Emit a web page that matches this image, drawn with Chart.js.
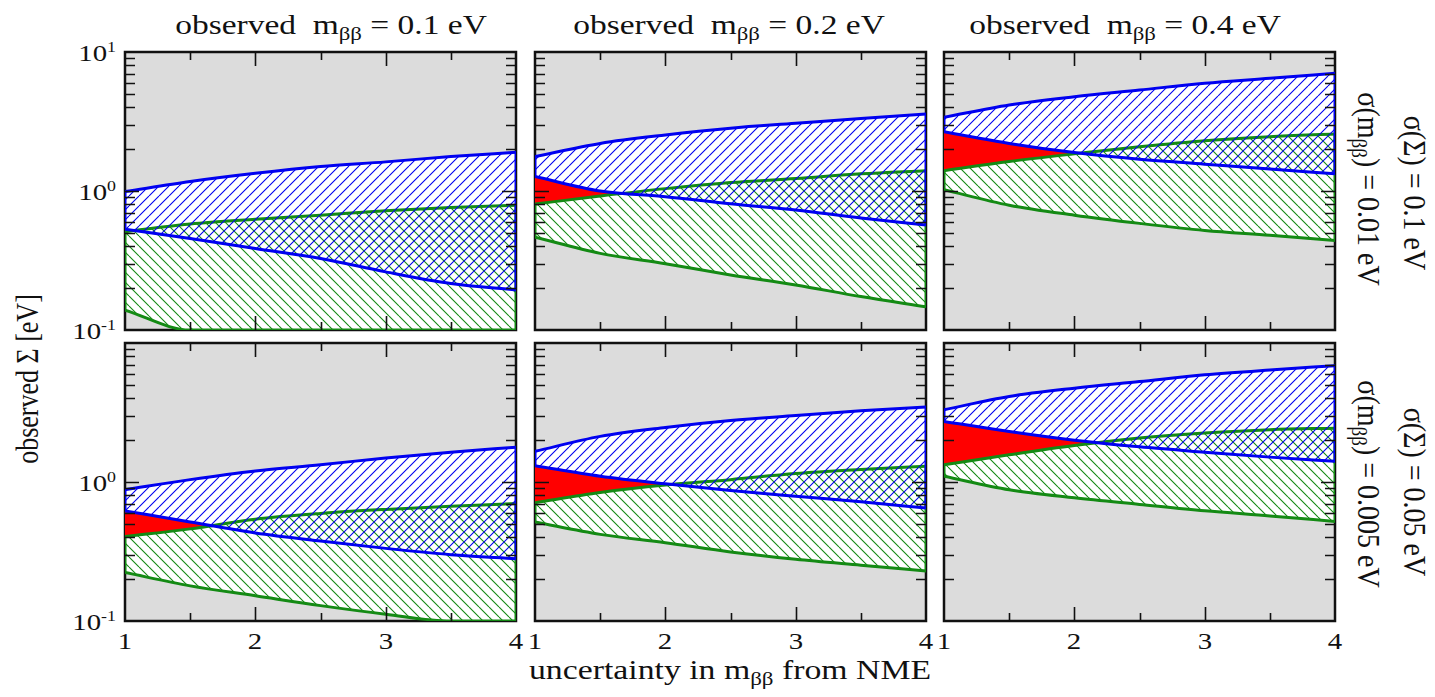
<!DOCTYPE html>
<html>
<head>
<meta charset="utf-8">
<script src="https://cdn.jsdelivr.net/npm/chart.js@4.4.1/dist/chart.umd.min.js"></script>
<style>
  body { margin: 0; background: #fff; }
  #page { position: relative; width: 1435px; height: 697px; overflow: hidden; background: #fff; }
  .panel { position: absolute; }
  .txt { position: absolute; white-space: nowrap; line-height: 1; color: #111;
         font-family: "Liberation Serif", "DejaVu Serif", serif; }
  .sub { font-size: 0.68em; vertical-align: -0.32em; }
  .sup { font-size: 0.62em; position: relative; top: -0.6em; }
</style>
</head>
<body>
<div id="page"></div>
<script>
// x grid shared by every curve (uncertainty factor from NME)
const xValues = [1, 1.5, 2, 2.5, 3, 3.5, 4];
const xTickValues = [1, 2, 3, 4];
const xMinorTicks = [1.5, 2.5, 3.5];
const yTickValues = [0.1, 1, 10];
const yTickExponents = ['-1', '0', '1'];
const yMinorTicks = [0.2, 0.3, 0.4, 0.5, 0.6, 0.7, 0.8, 0.9, 2, 3, 4, 5, 6, 7, 8, 9];

const observedMbb = ['0.1', '0.2', '0.4'];
const sigmaSum = ['0.1', '0.05'];
const sigmaMbb = ['0.01', '0.005'];

// top row: σ(Σ) = 0.1 eV, σ(mββ) = 0.01 eV
const blueUpperA1 = [0.99, 1.17, 1.34, 1.50, 1.62, 1.77, 1.90];
const blueLowerA1 = [0.53, 0.456, 0.386, 0.327, 0.262, 0.216, 0.194];
const greenUpperA1 = [0.51, 0.58, 0.627, 0.67, 0.72, 0.76, 0.79];
const greenLowerA1 = [0.139, 0.1, 0.1, 0.1, 0.1, 0.1, 0.1];

const blueUpperA2 = [1.77, 2.20, 2.53, 2.83, 3.07, 3.33, 3.58];
const blueLowerA2 = [1.27, 1.00, 0.91, 0.81, 0.73, 0.64, 0.57];
const greenUpperA2 = [0.805, 0.92, 1.04, 1.15, 1.23, 1.33, 1.40];
const greenLowerA2 = [0.465, 0.356, 0.30, 0.249, 0.211, 0.174, 0.147];

const blueUpperA3 = [3.39, 4.16, 4.77, 5.33, 5.96, 6.47, 7.03];
const blueLowerA3 = [2.67, 2.20, 1.89, 1.69, 1.56, 1.44, 1.33];
const greenUpperA3 = [1.40, 1.63, 1.85, 2.08, 2.30, 2.46, 2.57];
const greenLowerA3 = [1.02, 0.79, 0.67, 0.585, 0.52, 0.48, 0.44];

// bottom row: σ(Σ) = 0.05 eV, σ(mββ) = 0.005 eV
const blueUpperB1 = [0.88, 1.04, 1.20, 1.33, 1.49, 1.64, 1.78];
const blueLowerB1 = [0.62, 0.515, 0.43, 0.376, 0.333, 0.30, 0.281];
const greenUpperB1 = [0.405, 0.46, 0.54, 0.594, 0.635, 0.67, 0.70];
const greenLowerB1 = [0.223, 0.179, 0.152, 0.129, 0.112, 0.1, 0.1];

const blueUpperB2 = [1.66, 2.13, 2.47, 2.77, 3.01, 3.26, 3.46];
const blueLowerB2 = [1.31, 1.10, 0.97, 0.87, 0.79, 0.72, 0.65];
const greenUpperB2 = [0.71, 0.84, 0.95, 1.04, 1.15, 1.23, 1.30];
const greenLowerB2 = [0.515, 0.42, 0.366, 0.314, 0.278, 0.252, 0.229];

const blueUpperB3 = [3.31, 4.12, 4.73, 5.28, 5.90, 6.40, 6.87];
const blueLowerB3 = [2.73, 2.31, 2.00, 1.79, 1.64, 1.51, 1.41];
const greenUpperB3 = [1.33, 1.57, 1.83, 2.07, 2.25, 2.38, 2.44];
const greenLowerB3 = [1.10, 0.88, 0.77, 0.69, 0.62, 0.57, 0.52];

const panels = [
  [blueUpperA1, blueLowerA1, greenUpperA1, greenLowerA1],
  [blueUpperA2, blueLowerA2, greenUpperA2, greenLowerA2],
  [blueUpperA3, blueLowerA3, greenUpperA3, greenLowerA3],
  [blueUpperB1, blueLowerB1, greenUpperB1, greenLowerB1],
  [blueUpperB2, blueLowerB2, greenUpperB2, greenLowerB2],
  [blueUpperB3, blueLowerB3, greenUpperB3, greenLowerB3]
];

const colLeft = [125, 535, 944];
const rowTop = [52, 343];
const panelW = 391;
const panelH = 278;
const pad = 6;
const blue = '#0000f0';
const green = '#148a14';
const page = document.getElementById('page');

function hatch(color, forward) {
  const size = 10;
  const c = document.createElement('canvas');
  c.width = size;
  c.height = size;
  const g = c.getContext('2d');
  g.strokeStyle = color;
  g.lineWidth = 1.1;
  g.beginPath();
  for (const o of [-size, 0, size]) {
    if (forward) { g.moveTo(o, size); g.lineTo(o + size, 0); }
    else { g.moveTo(o, 0); g.lineTo(o + size, size); }
  }
  g.stroke();
  return g.createPattern(c, 'repeat');
}

const blueHatch = hatch(blue, true);
const greenHatch = hatch(green, false);

function pts(arr) {
  return xValues.map((x, i) => ({ x, y: arr[i] }));
}

function edge(hi, lo, i) {
  return [{ x: xValues[i], y: hi[i] }, { x: xValues[i], y: lo[i] }];
}

const panelBackground = {
  id: 'panelBackground',
  beforeDraw(chart) {
    const { ctx, chartArea: a } = chart;
    ctx.save();
    ctx.fillStyle = '#dcdcdc';
    ctx.fillRect(a.left, a.top, a.right - a.left, a.bottom - a.top);
    ctx.restore();
  }
};

const panelFrame = {
  id: 'panelFrame',
  beforeDatasetsDraw(chart) {
    const { ctx, chartArea: a } = chart;
    ctx.save();
    ctx.strokeStyle = '#111';
    ctx.lineWidth = 2.5;
    ctx.strokeRect(a.left, a.top, a.right - a.left, a.bottom - a.top);
    ctx.restore();
  }
};

const panelTicks = {
  id: 'panelTicks',
  afterDatasetsDraw(chart) {
    const { ctx, chartArea: a, scales } = chart;
    ctx.save();
    ctx.strokeStyle = '#111';
    ctx.lineWidth = 1.6;
    ctx.beginPath();
    const xt = [...xTickValues.slice(1, -1).map((v) => [v, 14]), ...xMinorTicks.map((v) => [v, 8])];
    for (const [v, len] of xt) {
      const px = Math.round(scales.x.getPixelForValue(v)) + 0.5;
      ctx.moveTo(px, a.bottom); ctx.lineTo(px, a.bottom - len);
      ctx.moveTo(px, a.top); ctx.lineTo(px, a.top + len);
    }
    const yt = [...yTickValues.slice(1, -1).map((v) => [v, 14]), ...yMinorTicks.map((v) => [v, 10])];
    for (const [v, len] of yt) {
      const py = Math.round(scales.y.getPixelForValue(v)) + 0.5;
      ctx.moveTo(a.left, py); ctx.lineTo(a.left + len, py);
      ctx.moveTo(a.right, py); ctx.lineTo(a.right - len, py);
    }
    ctx.stroke();
    ctx.restore();
  }
};

function lineSet(data, color, width, extra) {
  return Object.assign({
    data, borderColor: color, borderWidth: width, pointRadius: 0, fill: false,
    cubicInterpolationMode: 'monotone'
  }, extra || {});
}

function addText(html, left, top, size, transform, origin) {
  const el = document.createElement('div');
  el.className = 'txt';
  el.innerHTML = html;
  el.style.left = left + 'px';
  el.style.top = top + 'px';
  el.style.fontSize = size + 'px';
  el.style.transform = transform;
  el.style.transformOrigin = origin || 'center center';
  page.appendChild(el);
  return el;
}

panels.forEach(([bHi, bLo, gHi, gLo], idx) => {
  const row = Math.floor(idx / 3);
  const col = idx % 3;
  const box = document.createElement('div');
  box.className = 'panel';
  box.style.left = (colLeft[col] - pad) + 'px';
  box.style.top = (rowTop[row] - pad) + 'px';
  const canvas = document.createElement('canvas');
  canvas.width = panelW + 2 * pad;
  canvas.height = panelH + 2 * pad;
  box.appendChild(canvas);
  page.appendChild(box);

  const last = xValues.length - 1;
  const straight = { cubicInterpolationMode: 'default', tension: 0 };
  const datasets = [
    lineSet(pts(bHi), blue, 3, { fill: 1, backgroundColor: blueHatch }),          // 0
    lineSet(pts(bLo), blue, 3),                                                     // 1
    lineSet(edge(bHi, bLo, 0), blue, 3, straight),
    lineSet(edge(bHi, bLo, last), blue, 3, straight),
    lineSet(pts(gHi), green, 3, { fill: 5, backgroundColor: greenHatch }),         // 4
    lineSet(pts(gLo), green, 3),                                                    // 5
    lineSet(edge(gHi, gLo, 0), green, 3, straight),
    lineSet(edge(gHi, gLo, last), green, 3, straight),
    lineSet(pts(bHi), 'rgba(0,0,0,0)', 0, { fill: 1, backgroundColor: '#ffffff' }),
    lineSet(pts(gHi), 'rgba(0,0,0,0)', 0, { fill: 5, backgroundColor: '#ffffff' }),
    lineSet(pts(gHi), 'rgba(0,0,0,0)', 0, {
      fill: { target: 1, above: 'rgba(0,0,0,0)', below: '#ff0000' }, backgroundColor: '#ff0000'
    })
  ];

  const chart = new Chart(canvas, {
    type: 'line',
    data: { datasets },
    options: {
      responsive: false,
      animation: false,
      events: [],
      layout: { padding: pad },
      scales: {
        x: { type: 'linear', min: 1, max: 4, display: false },
        y: { type: 'logarithmic', min: 0.1, max: 10, display: false }
      },
      elements: { point: { radius: 0, hoverRadius: 0 } },
      plugins: { legend: { display: false }, tooltip: { enabled: false } }
    },
    plugins: [panelBackground, panelFrame, panelTicks]
  });

  const offX = colLeft[col] - pad;
  const offY = rowTop[row] - pad;
  if (col === 0) {
    yTickValues.forEach((v, i) => {
      if (row === 1 && i === yTickValues.length - 1) return;
      const y = offY + chart.scales.y.getPixelForValue(v);
      addText(`10<span class="sup">${yTickExponents[i]}</span>`, 116, y + 1, 24,
        'translate(-100%, -50%) scaleX(1.2)', 'right center');
    });
  }
  if (row === 1) {
    xTickValues.forEach((v) => {
      const x = offX + chart.scales.x.getPixelForValue(v);
      addText(String(v), x, offY + pad + panelH + 20, 24,
        'translate(-50%, -50%) scaleX(1.2)', 'center center');
    });
  }
});

// column titles
const titleCenters = [331, 729, 1125];
observedMbb.forEach((m, i) => {
  addText(`observed&nbsp;&nbsp;m<span class="sub">ββ</span> = ${m} eV`, titleCenters[i], 12, 27,
    'translate(-50%, 0) scaleX(1.24)', 'center top');
});

// axis titles
addText('uncertainty in m<span class="sub">ββ</span> from NME', 730, 657, 27,
  'translate(-50%, 0) scaleX(1.25)', 'center top');
addText('observed Σ [eV]', 28, 379, 26,
  'translate(-50%, -50%) rotate(-90deg) scaleY(1.25)', 'center center');

// row labels on the right
const rowSumCenters = [193, 492];
const rowMbbCenters = [189, 484];
sigmaSum.forEach((s, i) => {
  addText(`σ(Σ) = ${s} eV`, 1414, rowSumCenters[i], 28,
    'translate(-50%, -50%) rotate(90deg) scaleY(1.1)', 'center center');
});
sigmaMbb.forEach((s, i) => {
  addText(`σ(m<span class="sub">ββ</span>) = ${s} eV`, 1366, rowMbbCenters[i], 28,
    'translate(-50%, -50%) rotate(90deg) scaleY(1.1)', 'center center');
});
</script>
</body>
</html>
